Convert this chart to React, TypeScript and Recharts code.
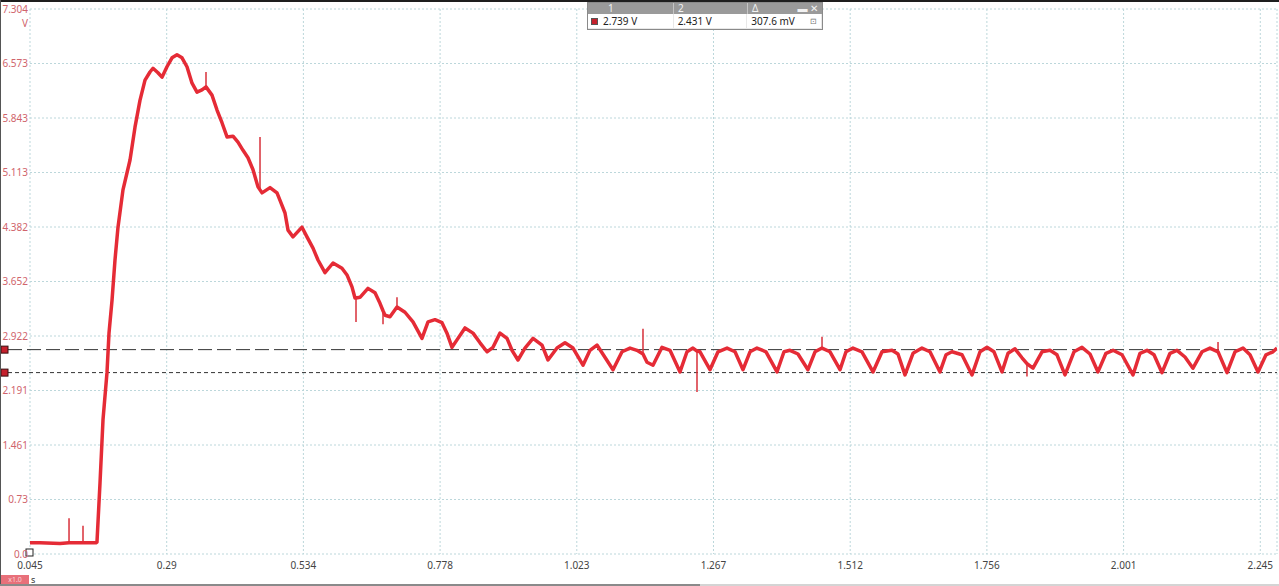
import React from "react";
import {
  CartesianGrid,
  Line,
  LineChart,
  ReferenceLine,
  XAxis,
  YAxis,
} from "recharts";

// Scope capture: channel 1 voltage vs time. Points are [seconds, volts].
const BASELINE_PTS: [number, number][] = [
  [0.045, 0.15], [0.0629, 0.15], [0.0987, 0.14], [0.1148, 0.15],
  [0.1398, 0.15], [0.163, 0.15], [0.1648, 0.16],
];

const RISE_PTS: [number, number][] = [
  [0.1702, 0.95], [0.1756, 1.8], [0.1827, 2.43], [0.1863, 2.96],
  [0.1917, 3.4], [0.197, 3.94], [0.2024, 4.38], [0.2113, 4.88],
  [0.2239, 5.28], [0.2328, 5.72], [0.2417, 6.08], [0.2507, 6.35],
  [0.2596, 6.46], [0.265, 6.51], [0.2739, 6.45], [0.2811, 6.39],
  [0.29, 6.53], [0.299, 6.65], [0.3079, 6.69], [0.3169, 6.65],
];

const DECAY_PTS: [number, number][] = [
  [0.3258, 6.53], [0.3348, 6.31], [0.3437, 6.19], [0.3526, 6.22],
  [0.3598, 6.26], [0.3705, 6.15], [0.3795, 5.95], [0.3884, 5.78],
  [0.3974, 5.59], [0.4081, 5.6], [0.417, 5.52], [0.426, 5.41],
  [0.4349, 5.31], [0.4439, 5.15], [0.4528, 4.92], [0.4564, 4.88],
  [0.46, 4.84], [0.4743, 4.91], [0.4868, 4.84], [0.4922, 4.74],
  [0.5011, 4.57], [0.5065, 4.34], [0.5154, 4.25], [0.5315, 4.38],
  [0.5404, 4.25], [0.5512, 4.1], [0.5601, 3.94], [0.5726, 3.77],
  [0.587, 3.9], [0.603, 3.83], [0.612, 3.74], [0.6209, 3.58],
  [0.6263, 3.43], [0.6281, 3.43], [0.6352, 3.44], [0.6495, 3.56],
  [0.6621, 3.5], [0.671, 3.36], [0.6764, 3.26], [0.68, 3.2],
  [0.6889, 3.18], [0.7014, 3.31], [0.7157, 3.24], [0.73, 3.11],
  [0.7461, 2.89], [0.7569, 3.11], [0.7694, 3.14], [0.7819, 3.1],
  [0.7908, 2.96], [0.7998, 2.77], [0.8087, 2.87], [0.823, 3.03],
  [0.8374, 2.96], [0.8499, 2.83], [0.8624, 2.71], [0.8731, 2.77],
  [0.8856, 2.96], [0.8982, 2.89], [0.9071, 2.73], [0.9178, 2.6],
  [0.9303, 2.76], [0.9447, 2.89], [0.9608, 2.8], [0.9715, 2.6],
  [0.9876, 2.76], [1.0019, 2.83], [1.0162, 2.76], [1.0341, 2.53],
  [1.0466, 2.73], [1.0591, 2.8],
];

const RIPPLE_PTS: [number, number][] = [
  [1.0878, 2.47], [1.1039, 2.71], [1.1182, 2.76], [1.1307, 2.73],
  [1.1414, 2.68], [1.1486, 2.57], [1.1593, 2.53], [1.1754, 2.77],
  [1.1897, 2.73], [1.2076, 2.44], [1.2201, 2.71], [1.2308, 2.76],
  [1.238, 2.72], [1.2434, 2.71], [1.2612, 2.47], [1.2756, 2.71],
  [1.2917, 2.76], [1.306, 2.71], [1.3203, 2.47], [1.3328, 2.71],
  [1.3453, 2.76], [1.3614, 2.71], [1.3811, 2.44], [1.3936, 2.71],
  [1.4043, 2.73], [1.4186, 2.68], [1.4365, 2.47], [1.4491, 2.71],
  [1.4616, 2.76], [1.4759, 2.71], [1.4938, 2.47], [1.5045, 2.71],
  [1.517, 2.76], [1.5331, 2.71], [1.5528, 2.44], [1.5689, 2.71],
  [1.5868, 2.73], [1.5975, 2.68], [1.61, 2.4], [1.6243, 2.69],
  [1.6404, 2.76], [1.6547, 2.71], [1.6726, 2.44], [1.6834, 2.67],
  [1.6941, 2.71], [1.712, 2.67], [1.7299, 2.4], [1.7442, 2.71],
  [1.7567, 2.77], [1.7692, 2.71], [1.7835, 2.44], [1.7943, 2.69],
  [1.8068, 2.75], [1.8193, 2.63], [1.8282, 2.55], [1.839, 2.49],
  [1.8551, 2.71], [1.8694, 2.73], [1.8819, 2.67], [1.8962, 2.4],
  [1.9123, 2.71], [1.9266, 2.77], [1.9409, 2.68], [1.9552, 2.44],
  [1.9695, 2.69], [1.9821, 2.73], [1.9982, 2.67], [2.0178, 2.4],
  [2.0303, 2.69], [2.0429, 2.73], [2.0554, 2.67], [2.0697, 2.43],
  [2.084, 2.69], [2.0965, 2.73], [2.1108, 2.64], [2.1251, 2.49],
  [2.1412, 2.71], [2.1555, 2.76], [2.1699, 2.71], [2.186, 2.43],
  [2.2003, 2.71], [2.2146, 2.76], [2.2271, 2.67], [2.2414, 2.44],
  [2.2557, 2.67], [2.2682, 2.71], [2.2754, 2.76],
];

// narrow glitches on the trace: [seconds, from V, to V]
const SPIKES: [number, number, number][] = [
  [0.1148, 0.15, 0.48], [0.1398, 0.15, 0.38], [0.3598, 6.26, 6.46],
  [0.4564, 4.88, 5.59], [0.6281, 3.43, 3.11], [0.6764, 3.26, 3.08],
  [0.7014, 3.31, 3.44], [1.1414, 2.68, 3.02], [1.238, 2.72, 2.17],
  [1.4616, 2.76, 2.91], [1.8282, 2.55, 2.38], [2.1699, 2.71, 2.84],
];

const X_TICKS = [0.045, 0.2895, 0.534, 0.7785, 1.023, 1.2675, 1.512, 1.7565, 2.001, 2.2455];
const X_TICK_LABELS = ["0.045", "0.29", "0.534", "0.778", "1.023", "1.267", "1.512", "1.756", "2.001", "2.245"];
const Y_TICKS = [0, 0.7304, 1.4608, 2.1912, 2.9216, 3.652, 4.3824, 5.1128, 5.8432, 6.5736, 7.304];
const Y_TICK_LABELS = ["0.0", "0.73", "1.461", "2.191", "2.922", "3.652", "4.382", "5.113", "5.843", "6.573", "7.304"];

// cursor 1 / cursor 2 levels (V) and the delta the scope reports
const CURSORS = [2.739, 2.431];
const CURSOR_DELTA_MV = 307.6;

const data = [...BASELINE_PTS, ...RISE_PTS, ...DECAY_PTS, ...RIPPLE_PTS].map(
  ([t, v]) => ({ t, v })
);

const FONT = "'Noto Sans', 'Open Sans', sans-serif";
const TRACE = "#e52b36";
const GRID = "#bcd7db";

const YTick = (props: any) => {
  const { x, y, payload, index } = props;
  return (
    <g>
      <text x={x} y={y} dy="0.355em" textAnchor="end" fill="#d0646c" fontSize={10} fontFamily={FONT}>
        {Y_TICK_LABELS[index] ?? payload.value}
      </text>
      {index === Y_TICKS.length - 1 && (
        <text x={x} y={y + 14} dy="0.355em" textAnchor="end" fill="#d0646c" fontSize={10} fontFamily={FONT}>
          V
        </text>
      )}
    </g>
  );
};

const cursorShape = (dash: string) => (p: any) => (
  <g>
    <line x1={p.x1 - 22} y1={p.y1} x2={p.x2} y2={p.y2} stroke="#333" strokeWidth={1} strokeDasharray={dash} />
    <rect x={p.x1 - 29} y={p.y1 - 3.5} width={7} height={7} fill="#c4202c" stroke="#3a1010" strokeWidth={1} />
  </g>
);

const zeroMarker = (p: any) => (
  <rect x={p.x1 - 4} y={p.y1 - 5} width={7} height={7} fill="#fff" stroke="#222" strokeWidth={1} />
);

const cell = (w: number, extra: React.CSSProperties = {}): React.CSSProperties => ({
  width: w,
  boxSizing: "border-box",
  paddingLeft: 4,
  ...extra,
});

function CursorTable() {
  return (
    <div
      style={{
        position: "absolute",
        left: 587,
        top: 2,
        width: 236,
        fontFamily: FONT,
        fontSize: 10,
        background: "#a0a0a0",
        border: "1px solid #8a8a8a",
        boxSizing: "border-box",
      }}
    >
      <div style={{ display: "flex", height: 11, lineHeight: "11px", color: "#f2f2f2", background: "#9a9a9a" }}>
        <div style={cell(86, { paddingLeft: 20, borderRight: "1px solid #c4c4c4" })}>1</div>
        <div style={cell(74, { borderRight: "1px solid #c4c4c4" })}>2</div>
        <div style={cell(74, { display: "flex", justifyContent: "space-between", paddingRight: 4 })}>
          <span>Δ</span>
          <span>▬ ✕</span>
        </div>
      </div>
      <div style={{ display: "flex", height: 14, lineHeight: "14px", color: "#222", background: "#e8e8e8", gap: 1, padding: "0 1px 1px 0" }}>
        <div style={cell(85, { background: "#fff", paddingLeft: 3, display: "flex", alignItems: "center", gap: 5 })}>
          <span style={{ width: 5, height: 5, background: "#c4202c", border: "1px solid #555", display: "inline-block" }} />
          <span>{CURSORS[0].toFixed(3)} V</span>
        </div>
        <div style={cell(73, { background: "#fff" })}>{CURSORS[1].toFixed(3)} V</div>
        <div style={cell(74, { background: "#fff", display: "flex", justifyContent: "space-between", paddingRight: 4 })}>
          <span>{CURSOR_DELTA_MV.toFixed(1)} mV</span>
          <span style={{ color: "#777", fontSize: 8 }}>⊡</span>
        </div>
      </div>
    </div>
  );
}

export default function App() {
  return (
    <div style={{ position: "fixed", left: 0, top: 0, width: 1279, height: 586, background: "#fff", overflow: "hidden" }}>
      <LineChart
        width={1279}
        height={586}
        data={data}
        margin={{ top: 9, right: 2, bottom: 0, left: 0 }}
      >
        <CartesianGrid stroke={GRID} strokeDasharray="2 2" />
        <XAxis
          dataKey="t"
          type="number"
          domain={[0.045, 2.2754]}
          ticks={X_TICKS}
          tickFormatter={(_v: number, i: number) => X_TICK_LABELS[i]}
          axisLine={false}
          tickLine={false}
          tickSize={0}
          tickMargin={8}
          height={32}
          allowDataOverflow
          tick={{ fill: "#444", fontSize: 10, fontFamily: FONT }}
          interval={0}
        />
        <YAxis
          type="number"
          domain={[0, 7.304]}
          ticks={Y_TICKS}
          axisLine={false}
          tickLine={false}
          tickSize={0}
          tickMargin={2}
          width={30}
          interval={0}
          tick={YTick}
        />
        <ReferenceLine y={0} stroke="none" shape={zeroMarker} />
        <ReferenceLine y={CURSORS[0]} stroke="#333" shape={cursorShape("14 5")} />
        <ReferenceLine y={CURSORS[1]} stroke="#333" shape={cursorShape("4 3")} />
        {SPIKES.map(([t, from, to], i) => (
          <ReferenceLine
            key={i}
            segment={[{ x: t, y: from }, { x: t, y: to }]}
            stroke="#d8303a"
            strokeWidth={1.5}
          />
        ))}
        <Line
          type="linear"
          dataKey="v"
          stroke={TRACE}
          strokeWidth={3.5}
          strokeLinejoin="round"
          dot={false}
          isAnimationActive={false}
        />
      </LineChart>

      <CursorTable />

      {/* frame and bottom status strip */}
      <div style={{ position: "absolute", left: 0, top: 0, width: 1279, height: 2, background: "#1e1e1e" }} />
      <div style={{ position: "absolute", left: 0, top: 0, width: 1, height: 586, background: "#555" }} />
      <div style={{ position: "absolute", left: 1, top: 575, width: 28, height: 10, background: "#e8707a", color: "#fbd3d6", fontSize: 7, lineHeight: "10px", textAlign: "center", fontFamily: FONT }}>
        x1.0
      </div>
      <div style={{ position: "absolute", left: 31, top: 573, fontSize: 9, color: "#333", fontFamily: FONT }}>s</div>
      <div style={{ position: "absolute", left: 0, top: 584, width: 700, height: 2, background: "#8a8a8a" }} />
      <div style={{ position: "absolute", left: 700, top: 584, width: 579, height: 2, background: "#d4d4d4" }} />
    </div>
  );
}
